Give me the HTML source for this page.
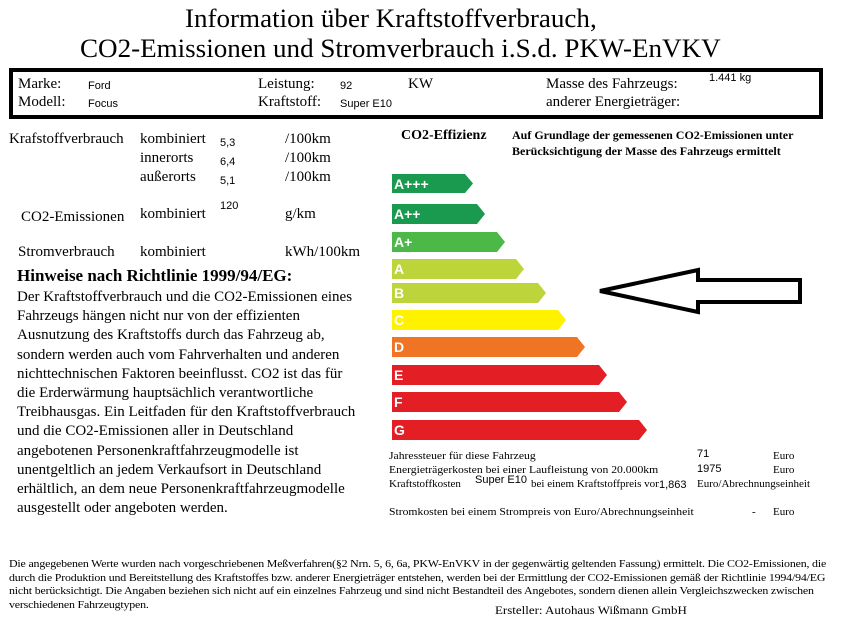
<!DOCTYPE html>
<html><head><meta charset="utf-8"><style>
body{margin:0;width:845px;height:630px;background:#fff;position:relative;overflow:hidden;font-family:"Liberation Serif",serif;color:#000}
.a{position:absolute;white-space:nowrap}
.s{font-family:"Liberation Sans",sans-serif}
</style></head><body>
<div class="a" style="left:185px;top:4px;font-size:26px;line-height:30px;transform:scaleX(1.04);transform-origin:0 0">Information über Kraftstoffverbrauch,</div>
<div class="a" style="left:80px;top:34px;font-size:26px;line-height:30px;transform:scaleX(1.04);transform-origin:0 0">CO2-Emissionen und Stromverbrauch i.S.d. PKW-EnVKV</div>
<div class="a" style="left:9px;top:68px;width:806px;height:43px;border:4px solid #000"></div>
<div class="a" style="left:18px;top:76px;font-size:15px">Marke:</div>
<div class="a" style="left:18px;top:94px;font-size:15px">Modell:</div>
<div class="a s" style="left:88px;top:80px;font-size:11px">Ford</div>
<div class="a s" style="left:88px;top:98px;font-size:11px">Focus</div>
<div class="a" style="left:258px;top:76px;font-size:15px">Leistung:</div>
<div class="a" style="left:258px;top:94px;font-size:15px">Kraftstoff:</div>
<div class="a s" style="left:340px;top:80px;font-size:11px">92</div>
<div class="a s" style="left:340px;top:98px;font-size:11px">Super E10</div>
<div class="a" style="left:408px;top:76px;font-size:15px">KW</div>
<div class="a" style="left:546px;top:76px;font-size:15px">Masse des Fahrzeugs:</div>
<div class="a" style="left:546px;top:94px;font-size:15px">anderer Energieträger:</div>
<div class="a s" style="left:709px;top:72px;font-size:11px">1.441 kg</div>

<div class="a" style="left:9px;top:130px;font-size:15px;line-height:19px">Krafstoffverbrauch</div>
<div class="a" style="left:140px;top:130px;font-size:15px;line-height:19px">kombiniert<br>innerorts<br>außerorts</div>
<div class="a s" style="left:220px;top:134px;font-size:11px;line-height:19px">5,3<br>6,4<br>5,1</div>
<div class="a" style="left:285px;top:130px;font-size:15px;line-height:19px">/100km<br>/100km<br>/100km</div>
<div class="a" style="left:21px;top:209px;font-size:15px">CO2-Emissionen</div>
<div class="a" style="left:140px;top:206px;font-size:15px">kombiniert</div>
<div class="a s" style="left:220px;top:200px;font-size:11px">120</div>
<div class="a" style="left:285px;top:206px;font-size:15px">g/km</div>
<div class="a" style="left:18px;top:244px;font-size:15px">Stromverbrauch</div>
<div class="a" style="left:140px;top:244px;font-size:15px">kombiniert</div>
<div class="a" style="left:285px;top:244px;font-size:15px">kWh/100km</div>

<div class="a" style="left:401px;top:128px;font-size:14px;font-weight:bold">CO2-Effizienz</div>
<div class="a" style="left:512px;top:127px;font-size:12px;font-weight:bold;line-height:16px">Auf Grundlage der gemessenen CO2-Emissionen unter<br>Berücksichtigung der Masse des Fahrzeugs ermittelt</div>

<div class="a" style="left:17px;top:266px;font-size:17px;font-weight:bold">Hinweise nach Richtlinie 1999/94/EG:</div>
<div class="a" style="left:17px;top:288px;font-size:15px;line-height:19.2px">Der Kraftstoffverbrauch und die CO2-Emissionen eines<br>Fahrzeugs hängen nicht nur von der effizienten<br>Ausnutzung des Kraftstoffs durch das Fahrzeug ab,<br>sondern werden auch vom Fahrverhalten und anderen<br>nichttechnischen Faktoren beeinflusst. CO2 ist das für<br>die Erderwärmung hauptsächlich verantwortliche<br>Treibhausgas. Ein Leitfaden für den Kraftstoffverbrauch<br>und die CO2-Emissionen aller in Deutschland<br>angebotenen Personenkraftfahrzeugmodelle ist<br>unentgeltlich an jedem Verkaufsort in Deutschland<br>erhältlich, an dem neue Personenkraftfahrzeugmodelle<br>ausgestellt oder angeboten werden.</div>

<svg class="a" style="left:0;top:0" width="845" height="630">
<g>
<polygon points="392,174 465,174 473,183.5 465,193 392,193" fill="#1a9a4e"/>
<polygon points="392,204 477,204 485,214 477,224 392,224" fill="#1a9a4e"/>
<polygon points="392,232 497,232 505,242 497,252 392,252" fill="#4cb848"/>
<polygon points="392,259 516,259 524,269 516,279 392,279" fill="#bdd53a"/>
<polygon points="392,283 538,283 546,293 538,303 392,303" fill="#bdd53a"/>
<polygon points="392,310 558,310 566,320 558,330 392,330" fill="#fff200"/>
<polygon points="392,337 577,337 585,347 577,357 392,357" fill="#ef7423"/>
<polygon points="392,365 599,365 607,375 599,385 392,385" fill="#e31e25"/>
<polygon points="392,392 619,392 627,402 619,412 392,412" fill="#e31e25"/>
<polygon points="392,420 639,420 647,430 639,440 392,440" fill="#e31e25"/>
</g>
<g font-family="Liberation Sans" font-weight="bold" font-size="14" fill="#fff">
<text x="394" y="189">A+++</text><text x="394" y="219">A++</text><text x="394" y="247">A+</text>
<text x="394" y="274">A</text><text x="394" y="298">B</text><text x="394" y="325">C</text>
<text x="394" y="352">D</text><text x="394" y="380">E</text><text x="394" y="407">F</text><text x="394" y="435">G</text>
</g>
<polygon points="600,291 698,270 698,280 800,280 800,302 698,302 698,312" fill="none" stroke="#000" stroke-width="4"/>
</svg>

<div class="a" style="left:389px;top:450px;font-size:11px;transform:scaleX(1.06);transform-origin:0 0">Jahressteuer für diese Fahrzeug</div>
<div class="a" style="left:389px;top:464px;font-size:11px;transform:scaleX(1.06);transform-origin:0 0">Energieträgerkosten bei einer Laufleistung von 20.000km</div>
<div class="a" style="left:389px;top:478px;font-size:11px">Kraftstoffkosten</div>
<div class="a" style="left:531px;top:478px;font-size:11px">bei einem Kraftstoffpreis von</div>
<div class="a s" style="left:475px;top:474px;font-size:11px;background:#fff">Super E10</div>
<div class="a s" style="left:659px;top:479px;font-size:11px;background:#fff">1,863</div>
<div class="a" style="left:697px;top:478px;font-size:11px">Euro/Abrechnungseinheit</div>
<div class="a s" style="left:697px;top:448px;font-size:11px">71</div>
<div class="a s" style="left:697px;top:463px;font-size:11px">1975</div>
<div class="a" style="left:773px;top:450px;font-size:11px">Euro</div>
<div class="a" style="left:773px;top:464px;font-size:11px">Euro</div>
<div class="a" style="left:389px;top:506px;font-size:11px;transform:scaleX(1.06);transform-origin:0 0">Stromkosten bei einem Strompreis von Euro/Abrechnungseinheit</div>
<div class="a" style="left:752px;top:506px;font-size:11px">-</div>
<div class="a" style="left:773px;top:506px;font-size:11px">Euro</div>

<div class="a" style="left:9px;top:558px;font-size:10px;line-height:13.5px;letter-spacing:-0.15px;transform:scaleX(1.19);transform-origin:0 0">Die angegebenen Werte wurden nach vorgeschriebenen Meßverfahren(§2 Nrn. 5, 6, 6a, PKW-EnVKV in der gegenwärtig geltenden Fassung) ermittelt. Die CO2-Emissionen, die<br>durch die Produktion und Bereitstellung des Kraftstoffes bzw. anderer Energieträger entstehen, werden bei der Ermittlung der CO2-Emissionen gemäß der Richtlinie 1994/94/EG<br>nicht berücksichtigt. Die Angaben beziehen sich nicht auf ein einzelnes Fahrzeug und sind nicht Bestandteil des Angebotes, sondern dienen allein Vergleichszwecken zwischen<br>verschiedenen Fahrzeugtypen.</div>
<div class="a" style="left:495px;top:603px;font-size:12px;transform:scaleX(1.08);transform-origin:0 0">Ersteller: Autohaus Wißmann GmbH</div>
</body></html>
